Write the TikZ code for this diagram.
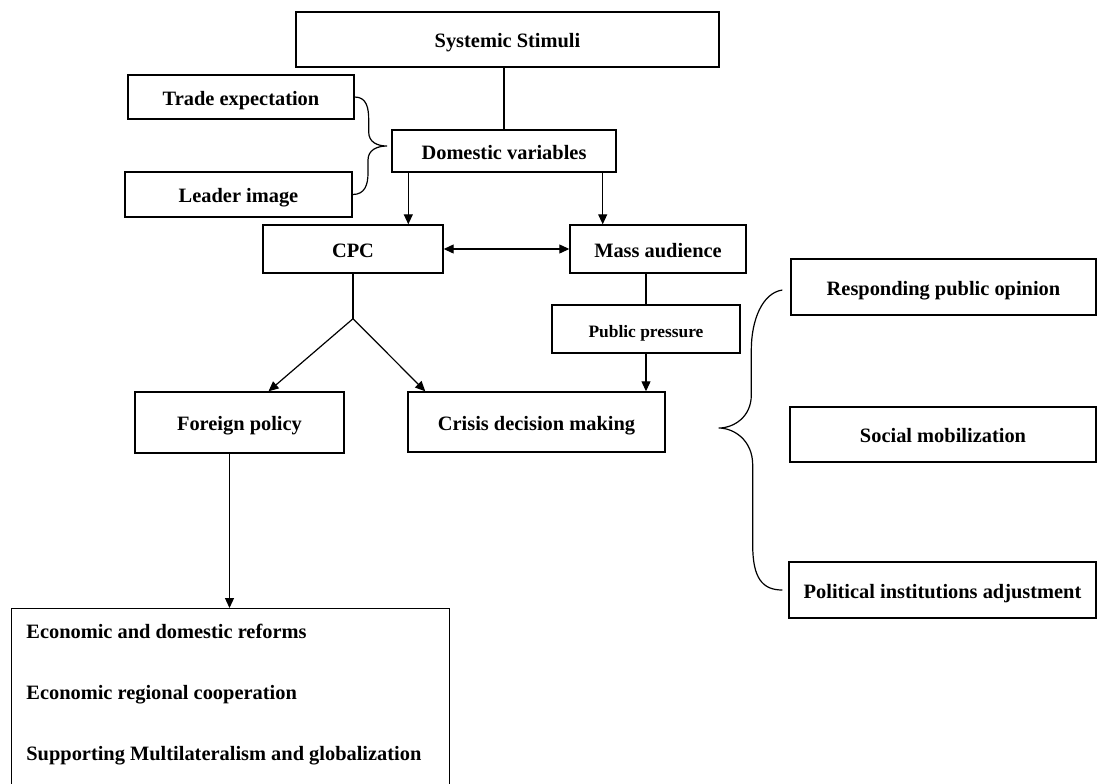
\documentclass[tikz,border=0pt]{standalone}
\usepackage{fontspec}
\setmainfont{Liberation Serif}
\usetikzlibrary{arrows.meta, calc}
\tikzstyle{box} = [rectangle, draw, line width=0.7pt, text centered, inner sep=0pt, text height=0.9em, text depth=0.1em, font=\bfseries\fontsize{10.2}{12}\selectfont]
\tikzstyle{item} = [anchor=base west, inner sep=0pt, font=\bfseries\fontsize{10.2}{12}\selectfont]
\tikzstyle{link} = [draw, line width=0.6pt]
\tikzstyle{connector} = [draw, line width=0.6pt, -{Triangle[length=5pt, width=4.5pt]}]
\tikzstyle{twoway} = [draw, line width=0.6pt, {Triangle[length=5pt, width=4.5pt]}-{Triangle[length=5pt, width=4.5pt]}]

\begin{document}
\begin{tikzpicture}[x=0.5pt, y=-0.5pt]
            \useasboundingbox (0,0) rectangle (1097,783);
            \fill[white] (0,0) rectangle (1097,783);
            \clip (0,0) rectangle (1097,783);

            \node[box, minimum width=211.5pt, minimum height=27.5pt] (stimuli) at (507.5,39.5) {Systemic Stimuli};
            \node[box, minimum width=113pt, minimum height=22pt] (trade) at (241,97) {Trade expectation};
            \node[box, minimum width=113.5pt, minimum height=22.5pt] (leader) at (238.5,194.5) {Leader image};
            \node[box, minimum width=112pt, minimum height=21pt] (domestic) at (504,151) {Domestic variables};
            \node[box, minimum width=90pt, minimum height=24pt] (cpc) at (353,249) {CPC};
            \node[box, minimum width=88pt, minimum height=24pt] (mass) at (658,249) {Mass audience};
            \node[box, minimum width=94pt, minimum height=24pt, font=\bfseries\fontsize{8.7}{10}\selectfont] (pressure) at (646,329) {Public pressure};
            \node[box, minimum width=104.5pt, minimum height=30.5pt] (foreign) at (239.5,422.5) {Foreign policy};
            \node[box, minimum width=128.5pt, minimum height=30pt] (crisis) at (536.5,422) {Crisis decision making};

            \node[box, minimum width=152.5pt, minimum height=28pt] (respond) at (943.5,287) {Responding public opinion};
            \node[box, minimum width=153pt, minimum height=27.5pt] (social) at (943,434.5) {Social mobilization};
            \node[box, minimum width=153.5pt, minimum height=28pt] (political) at (942.5,590) {Political institutions adjustment};

            % outcome box runs off the bottom edge
            \node[box, anchor=north west, minimum width=219pt, minimum height=100pt] (outcomes) at (11,608) {};
            \foreach \txt [count=\i] in {Economic and domestic reforms, Economic regional cooperation, Supporting Multilateralism and globalization}
                \node[item] (goal\i) at ($(outcomes.north west)+(15,{30+61*(\i-1)})$) {\txt};

            \coordinate (dv1) at ($(domestic.south west)+(17,0)$);
            \coordinate (dv2) at ($(domestic.south east)+(-14,0)$);
            \coordinate (split) at ($(cpc.south)+(0,45)$);
            \coordinate (fp) at ($(foreign.south)+(-10,0)$);
            \coordinate (lefttip) at (387,146);
            \coordinate (righttop) at ($(respond.west)+(-8,3)$);
            \coordinate (rightbot) at ($(political.west)+(-6,0)$);
            \coordinate (righttip) at ($(crisis.east)+(53,6)$);

            \draw[link] (domestic.north) -- (domestic.north |- stimuli.south);
            \draw[connector] (dv1) -- (dv1 |- cpc.north);
            \draw[connector] (dv2) -- (dv2 |- mass.north);
            \draw[twoway] (cpc.east) -- (mass.west);
            \draw[link] (cpc.south) -- (split);
            \draw[connector] (split) -- ($(foreign.north)+(29,0)$);
            \draw[connector] (split) -- ($(crisis.north west)+(18,0)$);
            \draw[link] (pressure.north |- mass.south) -- (pressure.north);
            \draw[connector] (pressure.south) -- (pressure.south |- crisis.north);
            \draw[connector] (fp) -- (fp |- outcomes.north);

            % braces
            \draw[link] (trade.east) .. controls +(12,0) and +(0,-12) .. ++(14,23) -- ++(0,12)
                .. controls +(0,10) and +(-10,0) .. (lefttip)
                .. controls +(-10,0) and +(0,-10) .. ++(-19,14) -- ++(0,13)
                .. controls +(0,12) and +(12,0) .. (leader.east);
            \draw[link] (righttop) .. controls +(-20,3) and +(0,-30) .. ++(-31,60) -- ++(0,45)
                .. controls +(0,22) and +(15,0) .. (righttip)
                .. controls +(15,0) and +(0,-25) .. ++(34,37) -- ++(0,80)
                .. controls +(0,33) and +(-20,0) .. (rightbot);
        \end{tikzpicture}
\end{document}
